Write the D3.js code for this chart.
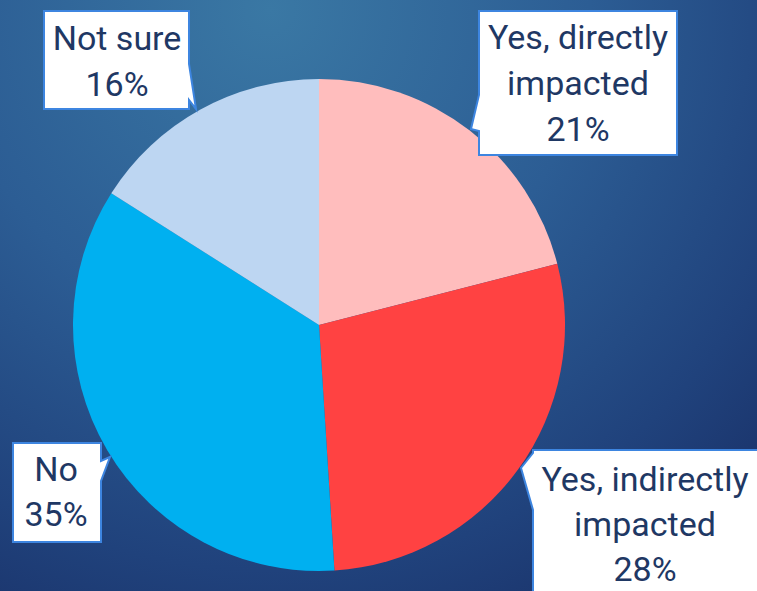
<!DOCTYPE html>
<html>
<head>
<meta charset="utf-8">
<script src="https://cdn.jsdelivr.net/npm/d3@7"></script>
<style>
  html, body { margin: 0; padding: 0; background: #1f3f78; }
  svg { display: block; }
</style>
</head>
<body>
<svg id="chart" width="757" height="591"></svg>
<script>
// Survey answers, in clockwise order from 12 o'clock
const categories = ["Yes, directly impacted", "Yes, indirectly impacted", "No", "Not sure"];
const values = [21, 28, 35, 16];
const sliceColors = ["#FFBDBD", "#FF4242", "#00B0F0", "#BDD6F2"];
// Callout text lines per slice
const labelLines = [
  ["Yes, directly", "impacted", "21%"],
  ["Yes, indirectly", "impacted", "28%"],
  ["No", "35%"],
  ["Not sure", "16%"]
];

const W = 757, H = 591;
const svg = d3.select("#chart");

// Background: soft radial wash, lighter near the top, deep navy at the lower right
const defs = svg.append("defs");
const bg = defs.append("radialGradient")
  .attr("id", "bg").attr("gradientUnits", "userSpaceOnUse")
  .attr("cx", 270).attr("cy", 10).attr("r", 800);
[[0, "#3a78a4"], [0.4, "#2c5d94"], [0.7, "#20427c"], [1, "#15265c"]]
  .forEach(([o, c]) => bg.append("stop").attr("offset", o).attr("stop-color", c));
svg.append("rect").attr("width", W).attr("height", H).attr("fill", "url(#bg)");

// Pie
const cx = 319, cy = 325, R = 246;
const pie = d3.pie().sort(null).value(d => d)(values);
const arc = d3.arc().innerRadius(0).outerRadius(R);
svg.append("g").attr("transform", `translate(${cx},${cy})`)
  .selectAll("path").data(pie).join("path")
  .attr("d", arc)
  .attr("fill", (d, i) => sliceColors[i]);

// Callout boxes: box rectangle, tail base on one side, tail tip at the pie rim
const callouts = [
  { box: [479, 11, 677, 155], side: "left",  base: [95, 131],  cxText: 578, baselines: [49, 95, 141], tip: [471, 129] },
  { box: [533, 450, 772, 612], side: "left", base: [453, 510], cxText: 645, baselines: [491, 536, 581], tip: [521, 468] },
  { box: [13, 443, 101, 542],  side: "right", base: [461, 481], cxText: 56, baselines: [481, 526], tip: [110, 457] },
  { box: [44, 11, 189, 109],   side: "right", base: [64, 100],  cxText: 117, baselines: [50, 96], tip: [196, 109] }
];

function calloutPath(c) {
  const [x0, y0, x1, y1] = c.box;
  const [b0, b1] = c.base;
  const [tx, ty] = c.tip;
  const p = d3.path();
  p.moveTo(x0, y0);
  p.lineTo(x1, y0);
  if (c.side === "right") {
    p.lineTo(x1, b0); p.lineTo(tx, ty); p.lineTo(x1, b1);
  }
  p.lineTo(x1, y1);
  p.lineTo(x0, y1);
  if (c.side === "left") {
    p.lineTo(x0, b1); p.lineTo(tx, ty); p.lineTo(x0, b0);
  }
  p.closePath();
  return p.toString();
}

const labels = svg.append("g").selectAll("g").data(callouts).join("g");
labels.append("path")
  .attr("d", d => calloutPath(d))
  .attr("fill", "#ffffff")
  .attr("stroke", "#3d85e0")
  .attr("stroke-width", 2)
  .attr("stroke-linejoin", "miter");
labels.each(function (c, i) {
  const g = d3.select(this);
  labelLines[i].forEach((t, k) => {
    g.append("text")
      .attr("x", c.cxText)
      .attr("y", c.baselines[k])
      .attr("text-anchor", "middle")
      .attr("font-family", "Roboto, 'Open Sans', sans-serif")
      .attr("font-size", 34)
      .attr("fill", "#1f3864")
      .text(t);
  });
});
</script>
</body>
</html>
